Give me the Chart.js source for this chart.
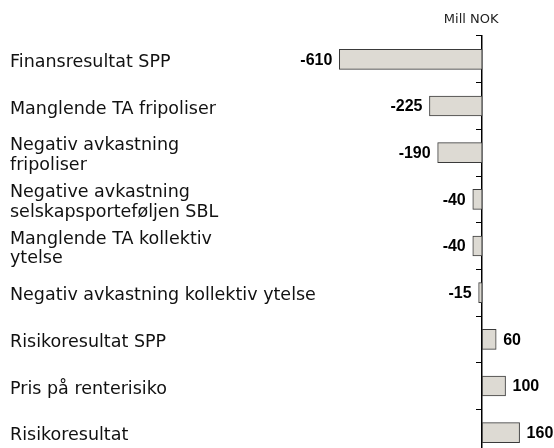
<!DOCTYPE html>
<html>
<head>
<meta charset="utf-8">
<script src="https://cdn.jsdelivr.net/npm/chart.js@4.4.1/dist/chart.umd.min.js"></script>
<style>
  html, body { margin: 0; padding: 0; background: #fff; overflow: hidden; }
  #wrap { width: 554px; height: 470px; }
</style>
</head>
<body>
<div id="wrap"><canvas id="chart" width="554" height="470"></canvas></div>
<script>
// data
const categories = [
    'Finansresultat SPP',
    'Manglende TA fripoliser',
    ['Negativ avkastning', 'fripoliser'],
    ['Negative avkastning', 'selskapsporteføljen SBL'],
    ['Manglende TA kollektiv', 'ytelse'],
    'Negativ avkastning kollektiv ytelse',
    'Risikoresultat SPP',
    'Pris på renterisiko',
    'Risikoresultat'
];
const values = [-610, -225, -190, -40, -40, -15, 60, 100, 160];
const unitLabel = 'Mill NOK';
const xMin = -620;
const xMax = 260;

const valueLabels = {
    id: 'valueLabels',
    afterDatasetsDraw(chart) {
        const ctx = chart.ctx;
        const meta = chart.getDatasetMeta(0);
        ctx.save();
        ctx.fillStyle = '#000';
        ctx.textBaseline = 'middle';
        ctx.font = 'bold 16px "Liberation Sans", Arial, sans-serif';
        meta.data.forEach((bar, i) => {
            const v = values[i];
            if (v < 0) {
                ctx.textAlign = 'right';
                ctx.fillText(String(v), bar.x - 7, bar.y + 1);
            } else {
                ctx.textAlign = 'left';
                ctx.fillText(String(v), bar.x + 7, bar.y + 1);
            }
        });
        // unit label above the zero axis
        const x0 = chart.scales.x.getPixelForValue(0);
        ctx.font = '13px "DejaVu Sans", sans-serif';
        ctx.textAlign = 'center';
        ctx.fillStyle = '#222';
        ctx.fillText(unitLabel, x0 - 11, 20);
        ctx.restore();
    }
};

new Chart(document.getElementById('chart'), {
    type: 'bar',
    data: {
        labels: categories,
        datasets: [{
            data: values,
            backgroundColor: '#dddad3',
            borderColor: '#3a3a3a',
            borderWidth: 1,
            borderSkipped: false,
            barThickness: 20
        }]
    },
    options: {
        indexAxis: 'y',
        responsive: false,
        animation: false,
        devicePixelRatio: 1,
        layout: { padding: { top: 36, left: 10, right: 11, bottom: 14 } },
        plugins: {
            legend: { display: false },
            tooltip: { enabled: false }
        },
        scales: {
            x: {
                display: false,
                min: xMin,
                max: xMax
            },
            y: {
                grid: { display: false },
                border: { display: false },
                ticks: {
                    autoSkip: false,
                    crossAlign: 'far',
                    labelOffset: 3,
                    color: '#111',
                    font: { family: '"DejaVu Sans", sans-serif', size: 17.5, lineHeight: 1.12 }
                },
                afterFit: function(scale) {
                    scale.width = 327;
                }
            },
            y2: {
                type: 'category',
                axis: 'y',
                labels: categories,
                position: { x: 0 },
                offset: true,
                grid: { offset: true, drawOnChartArea: false, drawTicks: true, tickLength: 5, color: '#000', lineWidth: 1 },
                border: { display: true, color: '#000', width: 1.5 },
                ticks: { display: false }
            }
        }
    },
    plugins: [valueLabels]
});
</script>
</body>
</html>
